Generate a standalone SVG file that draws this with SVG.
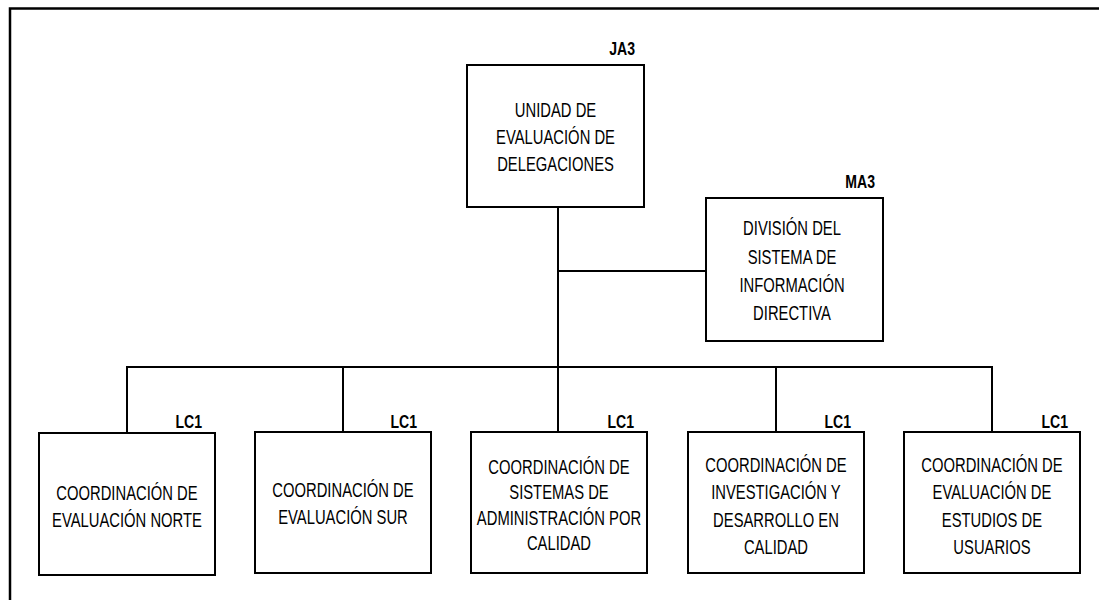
<svg xmlns="http://www.w3.org/2000/svg" width="1099" height="600" viewBox="0 0 1099 600">
<style>
.frame{fill:none;stroke:#000;stroke-width:2.5}
.box{fill:#fff;stroke:#000;stroke-width:2}
.ln{fill:none;stroke:#000;stroke-width:2}
text{font-family:"Liberation Sans Narrow","Liberation Sans",Arial,sans-serif;fill:#000}
.t{font-size:20px;text-anchor:middle}
.code{font-size:19px;font-weight:bold;text-anchor:end}
</style>
<rect width="1099" height="600" fill="#fff"/>
<path class="frame" d="M10,601 V8.5 H1100"/>
<g id="connectors">
<path class="ln" d="M558,207 V367"/>
<path class="ln" d="M558,271 H706"/>
<path class="ln" d="M127,433 V367 H992 V432"/>
<path class="ln" d="M343,367 V432"/>
<path class="ln" d="M558,367 V432"/>
<path class="ln" d="M776,367 V432"/>
</g>
<g id="unidad">
<rect class="box" x="467" y="65" width="177" height="142"/>
<g transform="scale(0.74,1)">
<text class="code" x="858.1" y="55">JA3</text>
<text class="t" x="750.7" y="117">UNIDAD DE</text>
<text class="t" x="750.7" y="144">EVALUACIÓN DE</text>
<text class="t" x="750.7" y="171">DELEGACIONES</text>
</g>
</g>
<g id="division">
<rect class="box" x="706" y="198" width="177" height="143"/>
<g transform="scale(0.74,1)">
<text class="code" x="1182.4" y="188">MA3</text>
<text class="t" x="1070.3" y="235">DIVISIÓN DEL</text>
<text class="t" x="1070.3" y="264">SISTEMA DE</text>
<text class="t" x="1070.3" y="292">INFORMACIÓN</text>
<text class="t" x="1070.3" y="320">DIRECTIVA</text>
</g>
</g>
<g id="norte">
<rect class="box" x="39" y="433" width="176" height="142"/>
<g transform="scale(0.74,1)">
<text class="code" x="273" y="428">LC1</text>
<text class="t" x="171.6" y="500">COORDINACIÓN DE</text>
<text class="t" x="171.6" y="527">EVALUACIÓN NORTE</text>
</g>
</g>
<g id="sur">
<rect class="box" x="255" y="432" width="176" height="141"/>
<g transform="scale(0.74,1)">
<text class="code" x="563.5" y="428">LC1</text>
<text class="t" x="463.5" y="497">COORDINACIÓN DE</text>
<text class="t" x="463.5" y="524">EVALUACIÓN SUR</text>
</g>
</g>
<g id="sistemas">
<rect class="box" x="471" y="432" width="176" height="141"/>
<g transform="scale(0.74,1)">
<text class="code" x="856.8" y="428">LC1</text>
<text class="t" x="755.4" y="474">COORDINACIÓN DE</text>
<text class="t" x="755.4" y="499">SISTEMAS DE</text>
<text class="t" x="755.4" y="525">ADMINISTRACIÓN POR</text>
<text class="t" x="755.4" y="550">CALIDAD</text>
</g>
</g>
<g id="investigacion">
<rect class="box" x="688" y="432" width="176" height="141"/>
<g transform="scale(0.74,1)">
<text class="code" x="1150" y="428">LC1</text>
<text class="t" x="1048.6" y="472">COORDINACIÓN DE</text>
<text class="t" x="1048.6" y="499">INVESTIGACIÓN Y</text>
<text class="t" x="1048.6" y="527">DESARROLLO EN</text>
<text class="t" x="1048.6" y="554">CALIDAD</text>
</g>
</g>
<g id="usuarios">
<rect class="box" x="904" y="432" width="176" height="141"/>
<g transform="scale(0.74,1)">
<text class="code" x="1443.2" y="428">LC1</text>
<text class="t" x="1340.5" y="472">COORDINACIÓN DE</text>
<text class="t" x="1340.5" y="499">EVALUACIÓN DE</text>
<text class="t" x="1340.5" y="527">ESTUDIOS DE</text>
<text class="t" x="1340.5" y="554">USUARIOS</text>
</g>
</g>
</svg>
